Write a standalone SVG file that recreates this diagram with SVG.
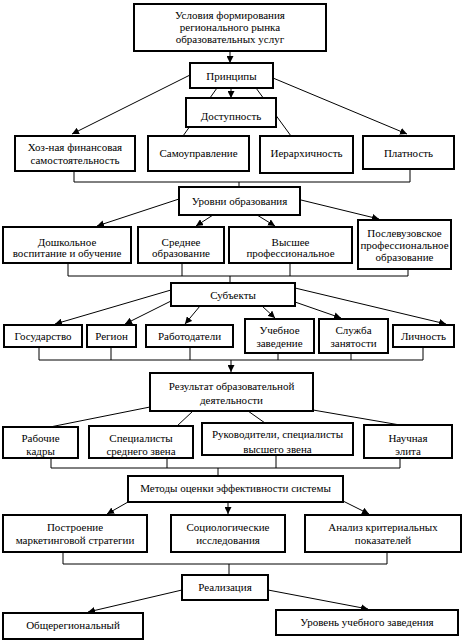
<svg xmlns="http://www.w3.org/2000/svg" width="464" height="641" viewBox="0 0 464 641">
<style>
.b{fill:#fff;stroke:#000;stroke-width:2}
.t{font-family:"Liberation Serif","Times New Roman",serif;font-size:11px;fill:#000;text-anchor:middle}
.c{fill:none;stroke:#000;stroke-width:1}
.a{marker-end:url(#ah)}
</style>
<defs>
<marker id="ah" markerUnits="userSpaceOnUse" markerWidth="8" markerHeight="7" refX="7" refY="3.5" orient="auto">
<path d="M0,0 L7,3.5 L0,7 z" fill="#000"/>
</marker>
</defs>
<rect width="464" height="641" fill="#fff"/>
<g id="connectors">
<line class="c a" x1="230" y1="51" x2="230" y2="63"/>
<line class="c a" x1="190" y1="75" x2="72" y2="134"/>
<line class="c a" x1="273" y1="78" x2="407" y2="134"/>
<line class="c" x1="217" y1="88" x2="183" y2="136"/>
<line class="c" x1="256" y1="88" x2="291" y2="136"/>
<line class="c a" x1="231" y1="88" x2="231" y2="98"/>
<path class="c" d="M74,171 V182 H410 V169 M239,182 V187"/>
<line class="c a" x1="179" y1="199" x2="97" y2="226"/>
<line class="c a" x1="213" y1="215" x2="196" y2="226"/>
<line class="c a" x1="257" y1="215" x2="275" y2="226"/>
<line class="c a" x1="301" y1="200" x2="379" y2="219"/>
<path class="c" d="M68,263 V276 H408 V269 M182,263 V276 M290,263 V276 M230,276 V283"/>
<line class="c a" x1="171" y1="290" x2="55" y2="324"/>
<line class="c a" x1="171" y1="301" x2="125" y2="324"/>
<line class="c a" x1="200" y1="306" x2="185" y2="324"/>
<line class="c a" x1="262" y1="306" x2="275" y2="318"/>
<line class="c a" x1="295" y1="302" x2="341" y2="318"/>
<line class="c a" x1="295" y1="288" x2="446" y2="324"/>
<path class="c" d="M39,347 V360 H423 V347 M111,347 V360 M190,347 V360 M278,353 V360 M351,353 V360"/>
<line class="c a" x1="231" y1="360" x2="231" y2="372"/>
<line class="c" x1="150" y1="407" x2="50" y2="427"/>
<line class="c" x1="193" y1="411" x2="177" y2="426"/>
<line class="c" x1="248" y1="411" x2="265" y2="423"/>
<line class="c" x1="313" y1="410" x2="400" y2="425"/>
<path class="c" d="M51,458 V468 H400 V458 M167,458 V468 M276,455 V468 M218,468 V476"/>
<line class="c a" x1="128" y1="502" x2="107" y2="514"/>
<line class="c a" x1="228" y1="502" x2="228" y2="514"/>
<line class="c a" x1="343" y1="501" x2="369" y2="514"/>
<path class="c" d="M63,552 V564 H387 V552 M229,564 V575"/>
<line class="c a" x1="182" y1="590" x2="88" y2="612"/>
<line class="c a" x1="268" y1="590" x2="368" y2="609"/>
</g>
<g id="n-usloviya"><rect class="b" x="134" y="4" width="192" height="47"/><text class="t" x="230" y="19">Условия формирования</text><text class="t" x="230" y="31">регионального рынка</text><text class="t" x="230" y="43">образовательных услуг</text></g>
<g id="n-principy"><rect class="b" x="190" y="63" width="83" height="25"/><text class="t" x="231.5" y="80">Принципы</text></g>
<g id="n-dostupnost"><rect class="b" x="186" y="98" width="90" height="29"/><text class="t" x="231" y="120">Доступность</text></g>
<g id="n-hoz"><rect class="b" x="15" y="136" width="120" height="35"/><text class="t" x="75" y="151">Хоз-ная финансовая</text><text class="t" x="75" y="164">самостоятельность</text></g>
<g id="n-samoupr"><rect class="b" x="148" y="136" width="101" height="35"/><text class="t" x="198.5" y="157">Самоуправление</text></g>
<g id="n-ierarh"><rect class="b" x="260" y="136" width="93" height="37"/><text class="t" x="306.5" y="157">Иерархичность</text></g>
<g id="n-platnost"><rect class="b" x="363" y="136" width="91" height="33"/><text class="t" x="408.5" y="157">Платность</text></g>
<g id="n-urovni"><rect class="b" x="179" y="187" width="121" height="28"/><text class="t" x="239.5" y="205">Уровни образования</text></g>
<g id="n-doshk"><rect class="b" x="3" y="227" width="128" height="36"/><text class="t" x="67" y="246">Дошкольное</text><text class="t" x="67" y="257">воспитание и обучение</text></g>
<g id="n-srednee"><rect class="b" x="138" y="227" width="86" height="36"/><text class="t" x="181" y="246">Среднее</text><text class="t" x="181" y="257">образование</text></g>
<g id="n-vysshee"><rect class="b" x="229" y="227" width="123" height="36"/><text class="t" x="290.5" y="246">Высшее</text><text class="t" x="290.5" y="257">профессиональное</text></g>
<g id="n-poslevuz"><rect class="b" x="358" y="220" width="93" height="49"/><text class="t" x="404.5" y="237">Послевузовское</text><text class="t" x="404.5" y="249">профессиональное</text><text class="t" x="404.5" y="261">образование</text></g>
<g id="n-subekty"><rect class="b" x="171" y="283" width="124" height="23"/><text class="t" x="233" y="299">Субъекты</text></g>
<g id="n-gos"><rect class="b" x="4" y="325" width="78" height="22"/><text class="t" x="43" y="340">Государство</text></g>
<g id="n-region"><rect class="b" x="87" y="325" width="49" height="22"/><text class="t" x="111.5" y="340">Регион</text></g>
<g id="n-rabotod"><rect class="b" x="146" y="325" width="87" height="22"/><text class="t" x="189.5" y="340">Работодатели</text></g>
<g id="n-uchebnoe"><rect class="b" x="245" y="319" width="69" height="34"/><text class="t" x="279.5" y="334">Учебное</text><text class="t" x="279.5" y="347">заведение</text></g>
<g id="n-sluzhba"><rect class="b" x="319" y="319" width="69" height="34"/><text class="t" x="353.5" y="334">Служба</text><text class="t" x="353.5" y="347">занятости</text></g>
<g id="n-lichnost"><rect class="b" x="393" y="325" width="61" height="22"/><text class="t" x="423.5" y="340">Личность</text></g>
<g id="n-rezultat"><rect class="b" x="150" y="373" width="163" height="38"/><text class="t" x="231.5" y="390">Результат образовательной</text><text class="t" x="231.5" y="404">деятельности</text></g>
<g id="n-rabochie"><rect class="b" x="3" y="427" width="75" height="31"/><text class="t" x="40.5" y="442">Рабочие</text><text class="t" x="40.5" y="455">кадры</text></g>
<g id="n-specialisty"><rect class="b" x="89" y="426" width="104" height="32"/><text class="t" x="141" y="442">Специалисты</text><text class="t" x="141" y="455">среднего звена</text></g>
<g id="n-rukovod"><rect class="b" x="202" y="423" width="151" height="32"/><text class="t" x="277.5" y="438">Руководители, специалисты</text><text class="t" x="277.5" y="453">высшего звена</text></g>
<g id="n-elita"><rect class="b" x="364" y="425" width="88" height="33"/><text class="t" x="408" y="442">Научная</text><text class="t" x="408" y="455">элита</text></g>
<g id="n-metody"><rect class="b" x="128" y="476" width="215" height="26"/><text class="t" x="235.5" y="492">Методы оценки эффективности системы</text></g>
<g id="n-postroenie"><rect class="b" x="3" y="515" width="144" height="37"/><text class="t" x="75" y="531">Построение</text><text class="t" x="75" y="544">маркетинговой стратегии</text></g>
<g id="n-sociolog"><rect class="b" x="171" y="515" width="114" height="37"/><text class="t" x="228" y="531">Социологические</text><text class="t" x="228" y="544">исследования</text></g>
<g id="n-analiz"><rect class="b" x="305" y="515" width="156" height="37"/><text class="t" x="383" y="531">Анализ критериальных</text><text class="t" x="383" y="544">показателей</text></g>
<g id="n-realizaciya"><rect class="b" x="182" y="575" width="86" height="25"/><text class="t" x="225" y="591">Реализация</text></g>
<g id="n-obshereg"><rect class="b" x="3" y="613" width="140" height="26"/><text class="t" x="73" y="629">Общерегиональный</text></g>
<g id="n-uroven"><rect class="b" x="276" y="610" width="182" height="25"/><text class="t" x="367" y="626">Уровень учебного заведения</text></g>
</svg>
